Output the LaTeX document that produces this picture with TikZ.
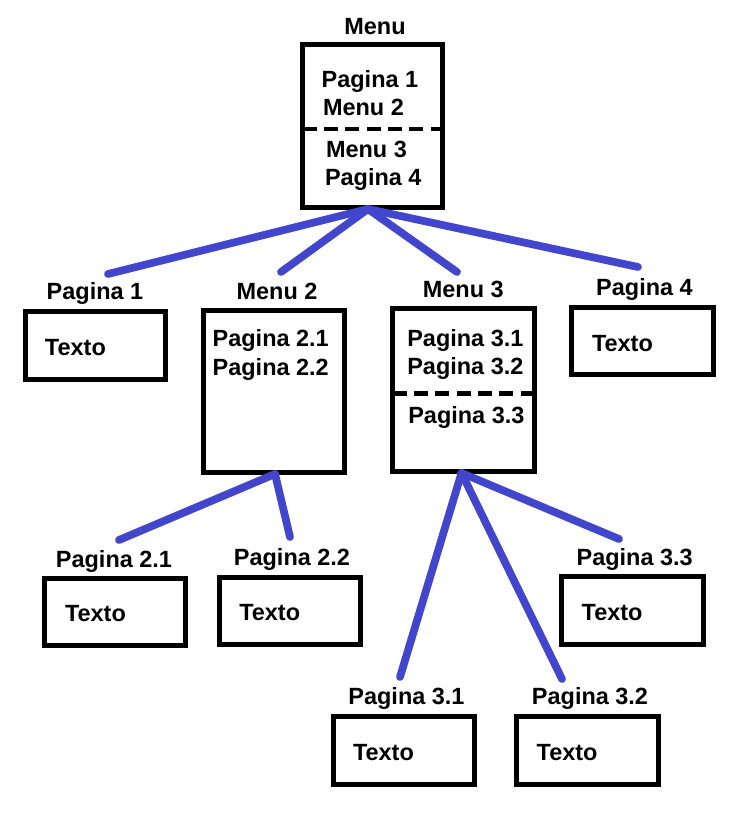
\documentclass[tikz,border=0pt]{standalone}
\usepackage{fontspec}
\setmainfont{Liberation Sans}
\usetikzlibrary{fit}
\definecolor{linkblue}{RGB}{66,70,204}
\tikzset{
  box/.style={draw=black, line width=3.75pt, inner sep=0pt, outer sep=0pt, fill=none},
  lbl/.style={inner sep=0pt, outer sep=0pt, anchor=base west, font=\fontsize{17.6}{21}\selectfont\bfseries},
  ttl/.style={inner sep=0pt, outer sep=0pt, anchor=base, font=\fontsize{17.6}{21}\selectfont\bfseries},
  sepline/.style={draw=black, line width=3.4pt, dash pattern=on 10.5pt off 5.5pt},
  link/.style={draw=linkblue, line width=5.8pt, line cap=round}
}
\begin{document}
\begin{tikzpicture}[x=0.75pt, y=-0.75pt]
\useasboundingbox (0,0) rectangle (740,818);
\fill[white] (0,0) rectangle (740,818);

% boxes
\node[box, fit={(302.5,44.5)(442.5,207.5)}] (menu) {};
\node[box, fit={(25,311.5)(165.5,379.5)}] (p1) {};
\node[box, fit={(203,310)(344,472.5)}] (m2) {};
\node[box, fit={(392.5,308.5)(534,471.5)}] (m3) {};
\node[box, fit={(571.5,307.5)(713.5,374.5)}] (p4) {};
\node[box, fit={(44.8,578.2)(185.8,645.8)}] (p21) {};
\node[box, fit={(219.8,577.5)(360.8,644.8)}] (p22) {};
\node[box, fit={(561.8,576.8)(703.2,644.2)}] (p33) {};
\node[box, fit={(333.5,716.5)(474.5,784.5)}] (p31) {};
\node[box, fit={(516.5,716.5)(658.5,784.5)}] (p32) {};

% dashed separators
\draw[sepline] (menu.west |- 0,129) -- (menu.east |- 0,129);
\draw[sepline] (m3.west |- 0,393.5) -- (m3.east |- 0,393.5);

% titles
\node[ttl] (tmenu) at (375,34) {Menu};
\node[ttl] (tp1) at (95,299) {Pagina 1};
\node[ttl] (tm2) at (277,299) {Menu 2};
\node[ttl] (tm3) at (463.3,297) {Menu 3};
\node[ttl] (tp4) at (644.5,295) {Pagina 4};
\node[ttl] (tp21) at (114,567) {Pagina 2.1};
\node[ttl] (tp22) at (292,565) {Pagina 2.2};
\node[ttl] (tp33) at (634.7,565) {Pagina 3.3};
\node[ttl] (tp31) at (406.5,704) {Pagina 3.1};
\node[ttl] (tp32) at (590,704) {Pagina 3.2};

% box contents
\node[lbl] (menuA) at (321.7,87.3) {Pagina 1};
\node[lbl] (menuB) at (323,115) {Menu 2};
\node[lbl] (menuC) at (326,157.3) {Menu 3};
\node[lbl] (menuD) at (325,185.7) {Pagina 4};
\node[lbl] (m2A) at (212.7,346.7) {Pagina 2.1};
\node[lbl] (m2B) at (212.7,375) {Pagina 2.2};
\node[lbl] (m3A) at (407.3,346) {Pagina 3.1};
\node[lbl] (m3B) at (407.3,374) {Pagina 3.2};
\node[lbl] (m3C) at (408.3,423.3) {Pagina 3.3};
\node[lbl] (p1t) at (45,355) {Texto};
\node[lbl] (p4t) at (592,351) {Texto};
\node[lbl] (p21t) at (65,621.7) {Texto};
\node[lbl] (p22t) at (239.3,620.7) {Texto};
\node[lbl] (p33t) at (581.7,620) {Texto};
\node[lbl] (p31t) at (353,760) {Texto};
\node[lbl] (p32t) at (536.7,760) {Texto};

% connector end points
\coordinate (ma) at (368,209);
\coordinate (e1) at (108,274);
\coordinate (e2) at (281,272);
\coordinate (e3) at (457,272);
\coordinate (e4) at (638,267);
\coordinate (m2a) at (275,474);
\coordinate (e21) at (119,540);
\coordinate (e22) at (290,537);
\coordinate (m3a) at (461.5,473);
\coordinate (e31) at (400,677);
\coordinate (e32) at (562,679);
\coordinate (e33) at (619,539);

% connectors
\draw[link] (ma) -- (e1);
\draw[link] (ma) -- (e2);
\draw[link] (ma) -- (e3);
\draw[link] (ma) -- (e4);
\draw[link] (m2a) -- (e21);
\draw[link] (m2a) -- (e22);
\draw[link] (m3a) -- (e31);
\draw[link] (m3a) -- (e32);
\draw[link] (m3a) -- (e33);
\end{tikzpicture}
\end{document}
